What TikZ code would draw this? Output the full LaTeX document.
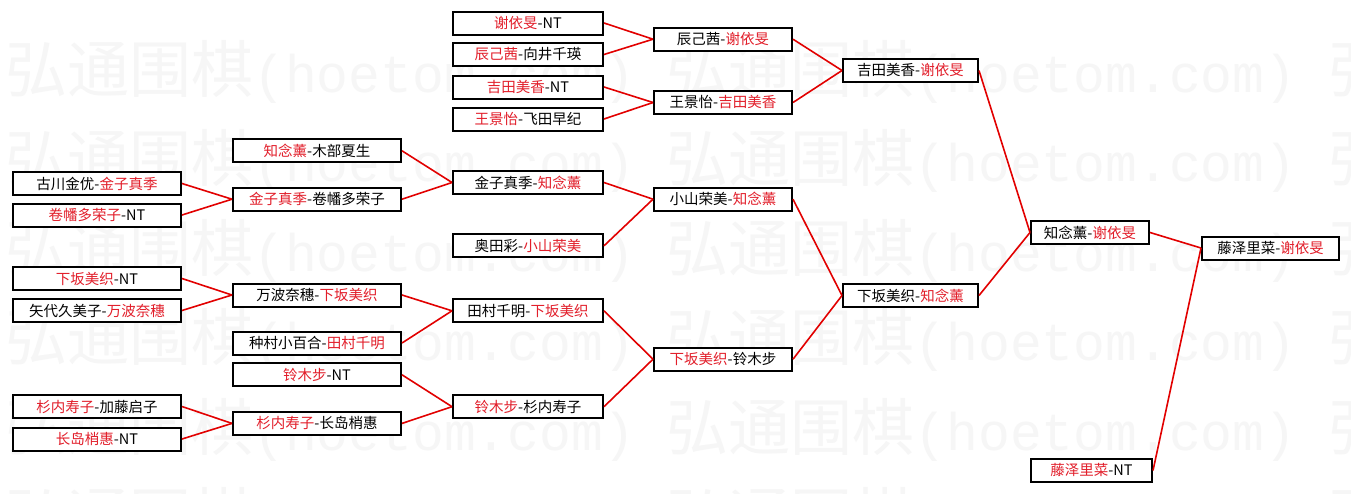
\documentclass[tikz,border=0pt]{standalone}
\usepackage{fontspec}
\newfontfamily\cjk{Noto Sans CJK SC}
\newfontfamily\wmmono{Liberation Mono}
\definecolor{tred}{RGB}{226,30,42}
\definecolor{lred}{RGB}{226,0,0}
\definecolor{wmgray}{RGB}{246,246,246}
\newcommand\rd[1]{\textcolor{tred}{#1}}
\newcommand\wmrow{{\cjk\fontsize{62}{62}\selectfont 弘通围棋}{\wmmono\fontsize{53}{53}\selectfont (hoetom.com) }{\cjk\fontsize{62}{62}\selectfont 弘通围棋}{\wmmono\fontsize{53}{53}\selectfont (hoetom.com) }{\cjk\fontsize{62}{62}\selectfont 弘}}
\tikzset{
  box/.style={draw=black, line width=2pt, fill=white, inner sep=0pt, minimum height=23,
    font=\cjk\fontsize{14.5}{16}\selectfont},
  colA/.style={box, minimum width=168},
  colB/.style={box, minimum width=168},
  colC/.style={box, minimum width=150},
  colD/.style={box, minimum width=138},
  colE/.style={box, minimum width=135},
  colF/.style={box, minimum width=118},
  colG/.style={box, minimum width=137},
  colH/.style={box, minimum width=121},
  link/.style={draw=lred, line width=1.6pt},
  wm/.style={text=wmgray, inner sep=0pt, anchor=base west}
}
\begin{document}
\begin{tikzpicture}[x=1pt,y=-1pt]
\useasboundingbox (0,0) rectangle (1351,493);
\clip (0,0) rectangle (1351,493);
\fill[white] (0,0) rectangle (1351,493);
% watermark rows
\node[wm] (w1) at (5,92) {\wmrow};
\node[wm] (w2) at (5,181.5) {\wmrow};
\node[wm] (w3) at (5,271) {\wmrow};
\node[wm] (w4) at (5,360.5) {\wmrow};
\node[wm] (w5) at (5,450) {\wmrow};
\node[wm] (w6) at (5,539.5) {\wmrow};
% column A
\node[colA] (A1) at (97,183.5) {古川金优-\rd{金子真季}};
\node[colA] (A2) at (97,215) {\rd{卷幡多荣子}-NT};
\node[colA] (A3) at (97,278.5) {\rd{下坂美织}-NT};
\node[colA] (A4) at (97,310.5) {矢代久美子-\rd{万波奈穗}};
\node[colA] (A5) at (97,406.5) {\rd{杉内寿子}-加藤启子};
\node[colA] (A6) at (97,439) {\rd{长岛梢惠}-NT};
% column B
\node[colB] (B1) at (317,150.8) {\rd{知念薰}-木部夏生};
\node[colB] (B2) at (317,199.2) {\rd{金子真季}-卷幡多荣子};
\node[colB] (B3) at (317,295) {万波奈穗-\rd{下坂美织}};
\node[colB] (B4) at (317,343) {种村小百合-\rd{田村千明}};
\node[colB] (B5) at (317,374.8) {\rd{铃木步}-NT};
\node[colB] (B6) at (317,423.4) {\rd{杉内寿子}-长岛梢惠};
% column C
\node[colC] (C1) at (528,23) {\rd{谢依旻}-NT};
\node[colC] (C2) at (528,54.5) {\rd{辰己茜}-向井千瑛};
\node[colC] (C3) at (528,87) {\rd{吉田美香}-NT};
\node[colC] (C4) at (528,119) {\rd{王景怡}-飞田早纪};
\node[colC] (C5) at (528,182.5) {金子真季-\rd{知念薰}};
\node[colC] (C6) at (528,245.8) {奥田彩-\rd{小山荣美}};
\node[colC] (C7) at (528,310.8) {田村千明-\rd{下坂美织}};
\node[colC] (C8) at (528,406.7) {\rd{铃木步}-杉内寿子};
% column D
\node[colD] (D1) at (723,39.2) {辰己茜-\rd{谢依旻}};
\node[colD] (D2) at (723,102.5) {王景怡-\rd{吉田美香}};
\node[colD] (D3) at (723,199.2) {小山荣美-\rd{知念薰}};
\node[colD] (D4) at (723,359.2) {\rd{下坂美织}-铃木步};
% column E
\node[colE] (E1) at (910.5,70.5) {吉田美香-\rd{谢依旻}};
\node[colE] (E2) at (910.5,295.5) {下坂美织-\rd{知念薰}};
% later rounds
\node[colF] (F) at (1090,232.5) {知念薰-\rd{谢依旻}};
\node[colG] (G) at (1270.5,248) {藤泽里菜-\rd{谢依旻}};
\node[colH] (H) at (1091.5,470.5) {\rd{藤泽里菜}-NT};
% connectors
\draw[link] (A1.east) -- (B2.west);
\draw[link] (A2.east) -- (B2.west);
\draw[link] (A3.east) -- (B3.west);
\draw[link] (A4.east) -- (B3.west);
\draw[link] (A5.east) -- (B6.west);
\draw[link] (A6.east) -- (B6.west);
\draw[link] (B1.east) -- (C5.west);
\draw[link] (B2.east) -- (C5.west);
\draw[link] (B3.east) -- (C7.west);
\draw[link] (B4.east) -- (C7.west);
\draw[link] (B5.east) -- (C8.west);
\draw[link] (B6.east) -- (C8.west);
\draw[link] (C1.east) -- (D1.west);
\draw[link] (C2.east) -- (D1.west);
\draw[link] (C3.east) -- (D2.west);
\draw[link] (C4.east) -- (D2.west);
\draw[link] (C5.east) -- (D3.west);
\draw[link] (C6.east) -- (D3.west);
\draw[link] (C7.east) -- (D4.west);
\draw[link] (C8.east) -- (D4.west);
\draw[link] (D1.east) -- (E1.west);
\draw[link] (D2.east) -- (E1.west);
\draw[link] (D3.east) -- (E2.west);
\draw[link] (D4.east) -- (E2.west);
\draw[link] (E1.east) -- (F.west);
\draw[link] (E2.east) -- (F.west);
\draw[link] (F.east) -- (G.west);
\draw[link] (H.east) -- (G.west);
\end{tikzpicture}
\end{document}
